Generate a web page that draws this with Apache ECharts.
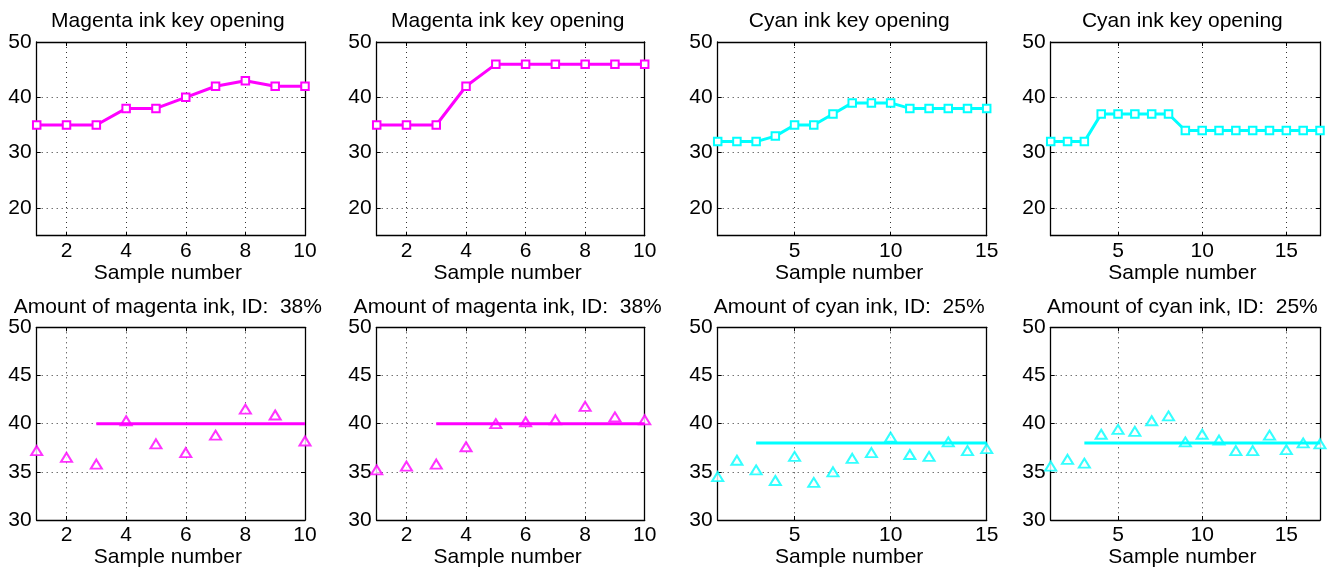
<!DOCTYPE html>
<html>
<head>
<meta charset="utf-8">
<script src="https://cdn.jsdelivr.net/npm/echarts@6/dist/echarts.min.js"></script>
<style>
  html, body { margin: 0; padding: 0; background: #fff; }
  #chart { width: 1333px; height: 571px; }
</style>
</head>
<body>
<div id="chart"></div>
<script>
// Ink key opening for each sample (top row)
const keyMagentaA = [35, 35, 35, 38, 38, 40, 42, 43, 42, 42];
const keyMagentaB = [35, 35, 35, 42, 46, 46, 46, 46, 46, 46];
const keyCyanA = [32, 32, 32, 33, 35, 35, 37, 39, 39, 39, 38, 38, 38, 38, 38];
const keyCyanB = [32, 32, 32, 37, 37, 37, 37, 37, 34, 34, 34, 34, 34, 34, 34, 34, 34];

// Measured amount of ink for each sample (bottom row)
const amtMagentaA = [37.2, 36.5, 35.8, 40.3, 37.9, 37.0, 38.8, 41.5, 40.9, 38.2];
const amtMagentaB = [35.2, 35.6, 35.8, 37.6, 40.0, 40.2, 40.4, 41.8, 40.7, 40.4];
const amtCyanA = [34.5, 36.2, 35.2, 34.1, 36.6, 33.9, 35.0, 36.4, 37.0, 38.6, 36.8, 36.6, 38.1, 37.2, 37.4];
const amtCyanB = [35.6, 36.3, 35.9, 38.9, 39.4, 39.2, 40.3, 40.8, 38.1, 38.9, 38.3, 37.2, 37.2, 38.8, 37.3, 38.0, 37.9];

// Target ink amount and the sample where the target line starts
const targetMagenta = 40;
const targetCyan = 38;
const targetStart = 3;

// Texts and tick values
const titlesTop = ['Magenta ink key opening', 'Magenta ink key opening', 'Cyan ink key opening', 'Cyan ink key opening'];
const titlesBottom = ['Amount of magenta ink, ID:  38%', 'Amount of magenta ink, ID:  38%', 'Amount of cyan ink, ID:  25%', 'Amount of cyan ink, ID:  25%'];
const xAxisName = 'Sample number';
const xTicksTen = [2, 4, 6, 8, 10];
const xTicksFive = [5, 10, 15];
const yTicksTop = [20, 30, 40, 50];
const yTicksBottom = [30, 35, 40, 45, 50];
const yRangeTop = [15, 50];
const yRangeBottom = [30, 50];

const MAGENTA = '#ff00ff';
const CYAN = '#00ffff';
const FONT = "'Liberation Sans', Arial, Helvetica, sans-serif";

// Plot boxes: column positions and row positions (px)
const columns = [
  { left: 36.7, width: 268.3 },
  { left: 376.7, width: 268 },
  { left: 717.7, width: 269 },
  { left: 1050.7, width: 269.3 }
];
const rows = [
  { top: 42, height: 193.7 },
  { top: 327.3, height: 192.7 }
];

const panels = [
  { row: 0, col: 0, title: titlesTop[0], kind: 'key', values: keyMagentaA, color: MAGENTA, xTicks: xTicksTen },
  { row: 0, col: 1, title: titlesTop[1], kind: 'key', values: keyMagentaB, color: MAGENTA, xTicks: xTicksTen },
  { row: 0, col: 2, title: titlesTop[2], kind: 'key', values: keyCyanA, color: CYAN, xTicks: xTicksFive },
  { row: 0, col: 3, title: titlesTop[3], kind: 'key', values: keyCyanB, color: CYAN, xTicks: xTicksFive },
  { row: 1, col: 0, title: titlesBottom[0], kind: 'amount', values: amtMagentaA, target: targetMagenta, color: MAGENTA, xTicks: xTicksTen },
  { row: 1, col: 1, title: titlesBottom[1], kind: 'amount', values: amtMagentaB, target: targetMagenta, color: MAGENTA, xTicks: xTicksTen },
  { row: 1, col: 2, title: titlesBottom[2], kind: 'amount', values: amtCyanA, target: targetCyan, color: CYAN, xTicks: xTicksFive },
  { row: 1, col: 3, title: titlesBottom[3], kind: 'amount', values: amtCyanB, target: targetCyan, color: CYAN, xTicks: xTicksFive }
];

const textBase = { color: '#000', fontFamily: FONT, fontSize: 21 };
const boxLine = { show: true, onZero: false, lineStyle: { color: '#000', width: 1.3 } };
const gridDots = { show: true, lineStyle: { color: '#333', width: 1, type: [1, 4] } };

const grid = [], xAxis = [], yAxis = [], title = [], series = [];

panels.forEach((p, i) => {
  const c = columns[p.col], r = rows[p.row];
  const n = p.values.length;
  const yRange = p.row === 0 ? yRangeTop : yRangeBottom;
  const yTicks = p.row === 0 ? yTicksTop : yTicksBottom;

  grid.push({ left: c.left, top: r.top, width: c.width, height: r.height, containLabel: false });

  title.push({
    text: p.title,
    left: c.left + c.width / 2 - 3,
    top: r.top - 31,
    textAlign: 'center',
    padding: 0,
    textStyle: Object.assign({ fontWeight: 'normal' }, textBase)
  });

  // bottom / top x axes
  xAxis.push({
    type: 'value', gridIndex: i, position: 'bottom', min: 1, max: n,
    axisLine: boxLine,
    axisTick: { show: true, inside: true, length: 4, customValues: p.xTicks, lineStyle: { color: '#000' } },
    axisLabel: Object.assign({ customValues: p.xTicks, margin: 5 }, textBase),
    splitLine: gridDots,
    name: xAxisName, nameLocation: 'middle', nameGap: 24,
    nameTextStyle: Object.assign({ padding: [0, 6, 0, 0] }, textBase)
  });
  xAxis.push({
    type: 'value', gridIndex: i, position: 'top', min: 1, max: n,
    axisLine: boxLine,
    axisTick: { show: true, inside: true, length: 4, customValues: p.xTicks, lineStyle: { color: '#000' } },
    axisLabel: { show: false },
    splitLine: { show: false }
  });

  // left / right y axes
  yAxis.push({
    type: 'value', gridIndex: i, position: 'left', min: yRange[0], max: yRange[1],
    axisLine: boxLine,
    axisTick: { show: true, inside: true, length: 4, customValues: yTicks, lineStyle: { color: '#000' } },
    axisLabel: Object.assign({ customValues: yTicks, margin: 5 }, textBase),
    splitLine: gridDots
  });
  yAxis.push({
    type: 'value', gridIndex: i, position: 'right', min: yRange[0], max: yRange[1],
    axisLine: boxLine,
    axisTick: { show: true, inside: true, length: 4, customValues: yTicks, lineStyle: { color: '#000' } },
    axisLabel: { show: false },
    splitLine: { show: false }
  });

  const points = p.values.map((v, k) => [k + 1, v]);
  const axisRef = { xAxisIndex: 2 * i, yAxisIndex: 2 * i };

  if (p.kind === 'key') {
    series.push(Object.assign({
      type: 'line', data: points, clip: false,
      symbol: 'emptyRect', symbolSize: 7.5,
      lineStyle: { color: p.color, width: 3 },
      itemStyle: { color: p.color, borderColor: p.color, borderWidth: 2.5 },
      emphasis: { disabled: true }, silent: true, animation: false
    }, axisRef));
  } else {
    series.push(Object.assign({
      type: 'line', data: [[targetStart, p.target], [n, p.target]], clip: false,
      symbol: 'none',
      lineStyle: { color: p.color, width: 3 },
      emphasis: { disabled: true }, silent: true, animation: false
    }, axisRef));
    series.push(Object.assign({
      type: 'scatter', data: points, clip: false,
      symbol: 'emptyTriangle', symbolSize: [11, 9],
      itemStyle: { color: p.color, borderColor: p.color, borderWidth: 2.8 },
      emphasis: { disabled: true }, silent: true, animation: false
    }, axisRef));
  }
});

const chart = echarts.init(document.getElementById('chart'), null, { renderer: 'canvas' });
chart.setOption({
  backgroundColor: '#fff',
  animation: false,
  title, grid, xAxis, yAxis, series
});
</script>
</body>
</html>
